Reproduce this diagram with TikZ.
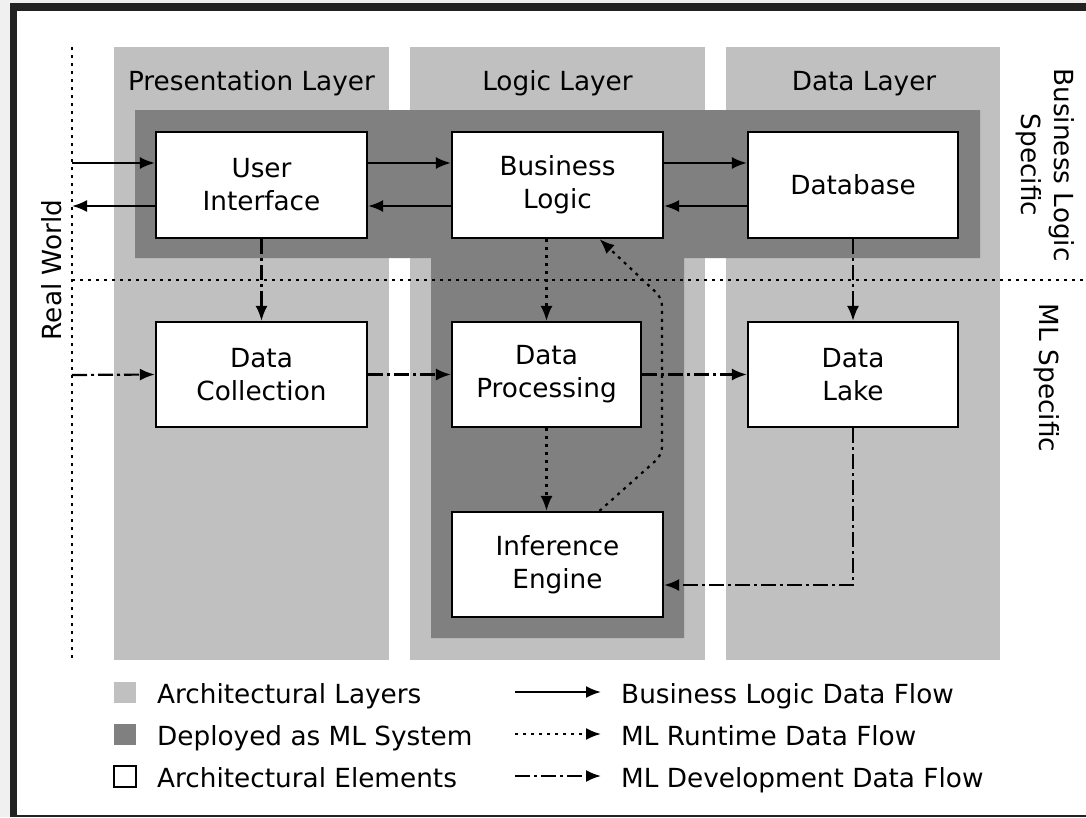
\documentclass[tikz,border=0pt]{standalone}
\usepackage{fontspec}
\setmainfont{DejaVu Sans}
\usetikzlibrary{arrows.meta,calc}
\definecolor{layergray}{RGB}{192,192,192}
\definecolor{mlgray}{RGB}{128,128,128}
\definecolor{framegray}{RGB}{34,34,34}
\definecolor{outergray}{RGB}{240,240,240}
\tikzset{
  lbl/.style={font=\fontsize{26.3}{33}\selectfont, text=black, inner sep=0pt},
  elem/.style={draw=black, line width=2.2pt, fill=white, align=center, lbl},
  layer/.style={fill=layergray, draw=none, inner sep=0pt},
  flow/.style={line width=2.2pt, -{Latex[length=15pt,width=12pt]}},
  bizflow/.style={flow},
  runflow/.style={flow, dash pattern=on 3pt off 5pt},
  devflow/.style={flow, dash pattern=on 15pt off 4pt on 3pt off 4pt},
  divider/.style={line width=2.2pt, dash pattern=on 3pt off 5pt},
  swatch/.style={minimum width=22pt, minimum height=21pt, inner sep=0pt},
}
\begin{document}
\begin{tikzpicture}[x=1pt, y=-1pt]
  % canvas and frame
  \useasboundingbox (0,0) rectangle (1086,817);
  \fill[outergray] (0,0) rectangle (1086,817);
  \fill[framegray] (10,3) rectangle (1086,817);
  \fill[white] (17,11) rectangle (1086,815);

  % architectural layers
  \node[layer, minimum width=275pt, minimum height=613pt] (presL) at (251.5,353.5) {};
  \node[layer, minimum width=295pt, minimum height=613pt] (logicL) at (557.5,353.5) {};
  \node[layer, minimum width=274pt, minimum height=613pt] (dataL) at (863,353.5) {};
  \node[lbl, anchor=base] (presT) at (251.5,90) {Presentation Layer};
  \node[lbl, anchor=base] (logicT) at (557.5,90) {Logic Layer};
  \node[lbl, anchor=base] (dataT) at (864,90) {Data Layer};

  % part deployed as ML system
  \fill[mlgray] (135,110) -- (980,110) -- (980,258) -- (684,258) -- (684,638)
    -- (431,638) -- (431,258) -- (135,258) -- cycle;

  % real world boundary and business / ML divider
  \coordinate (rwTop) at (72,47);
  \coordinate (rwBot) at (72,660);
  \coordinate (divL) at (72,280);
  \coordinate (divR) at (1086,280);
  \draw[divider] (rwTop) -- (rwBot);
  \draw[divider] (divL) -- (divR);
  \node[lbl, rotate=90] (rwText) at (52,270) {Real World};
  \node[lbl, rotate=-90, align=center] (bizText) at (1045,165) {Business Logic\\Specific};
  \node[lbl, rotate=-90] (mlText) at (1047,378) {ML Specific};

  % architectural elements
  \node[elem, minimum width=211pt, minimum height=106pt] (UI) at (261.5,185) {User\\Interface};
  \node[elem, minimum width=211pt, minimum height=106pt] (BL) at (557.5,185) {Business\\Logic};
  \node[elem, minimum width=210pt, minimum height=106pt] (DB) at (853,185) {Database};
  \node[elem, minimum width=211pt, minimum height=105pt] (DC) at (261.5,374.5) {Data\\Collection};
  \node[elem, minimum width=189pt, minimum height=105pt] (DP) at (546.5,374.5) {Data\\Processing};
  \node[elem, minimum width=210pt, minimum height=105pt] (DL) at (853,374.5) {Data\\Lake};
  \node[elem, minimum width=211pt, minimum height=105pt] (IE) at (557.5,564.5) {Inference\\Engine};

  % business logic data flow
  \coordinate (rwIn) at (72,163);
  \coordinate (rwOut) at (72,206);
  \draw[bizflow] (rwIn) -- ([yshift=22pt]UI.west);
  \draw[bizflow] ([yshift=-21pt]UI.west) -- (rwOut);
  \draw[bizflow] ([yshift=22pt]UI.east) -- ([yshift=22pt]BL.west);
  \draw[bizflow] ([yshift=-21pt]BL.west) -- ([yshift=-21pt]UI.east);
  \draw[bizflow] ([yshift=22pt]BL.east) -- ([yshift=22pt]DB.west);
  \draw[bizflow] ([yshift=-21pt]DB.west) -- ([yshift=-21pt]BL.east);

  % ML development data flow
  \coordinate (rwDev) at (72,375);
  \draw[devflow] (rwDev) -- (DC.west);
  \draw[devflow] (UI.south) -- (DC.north);
  \draw[devflow] (DC.east) -- (DP.west);
  \draw[devflow] (DP.east) -- (DL.west);
  \draw[devflow] (DB.south) -- (DL.north);
  \draw[devflow] (DL.south) |- ([yshift=-20.5pt]IE.east);

  % ML runtime data flow
  \draw[runflow] (BL.south -| DP.north) -- (DP.north);
  \draw[runflow] (DP.south) -- (DP.south |- IE.north);
  \coordinate (bendLow) at (662,455);
  \coordinate (bendHigh) at (662,298);
  \draw[runflow, rounded corners=8pt] ([xshift=42pt]IE.north) -- (bendLow)
    -- (bendHigh) -- ([xshift=42pt]BL.south);

  % legend
  \node[swatch, fill=layergray] (legLayer) at (125,692.5) {};
  \node[swatch, fill=mlgray] (legML) at (125,734.5) {};
  \node[swatch, draw=black, line width=2.2pt, fill=white] (legElem) at (125,776.5) {};
  \node[lbl, anchor=base west] (legLayerT) at (157,703) {Architectural Layers};
  \node[lbl, anchor=base west] (legMLT) at (157,745) {Deployed as ML System};
  \node[lbl, anchor=base west] (legElemT) at (157,787) {Architectural Elements};

  \coordinate (legA1) at (515,692);
  \coordinate (legA2) at (601,692);
  \coordinate (legB1) at (515,734);
  \coordinate (legB2) at (601,734);
  \coordinate (legC1) at (515,776);
  \coordinate (legC2) at (601,776);
  \draw[bizflow] (legA1) -- (legA2);
  \draw[runflow] (legB1) -- (legB2);
  \draw[devflow] (legC1) -- (legC2);
  \node[lbl, anchor=base west] (legBizT) at (621,703) {Business Logic Data Flow};
  \node[lbl, anchor=base west] (legRunT) at (621,745) {ML Runtime Data Flow};
  \node[lbl, anchor=base west] (legDevT) at (621,787) {ML Development Data Flow};
\end{tikzpicture}
\end{document}
